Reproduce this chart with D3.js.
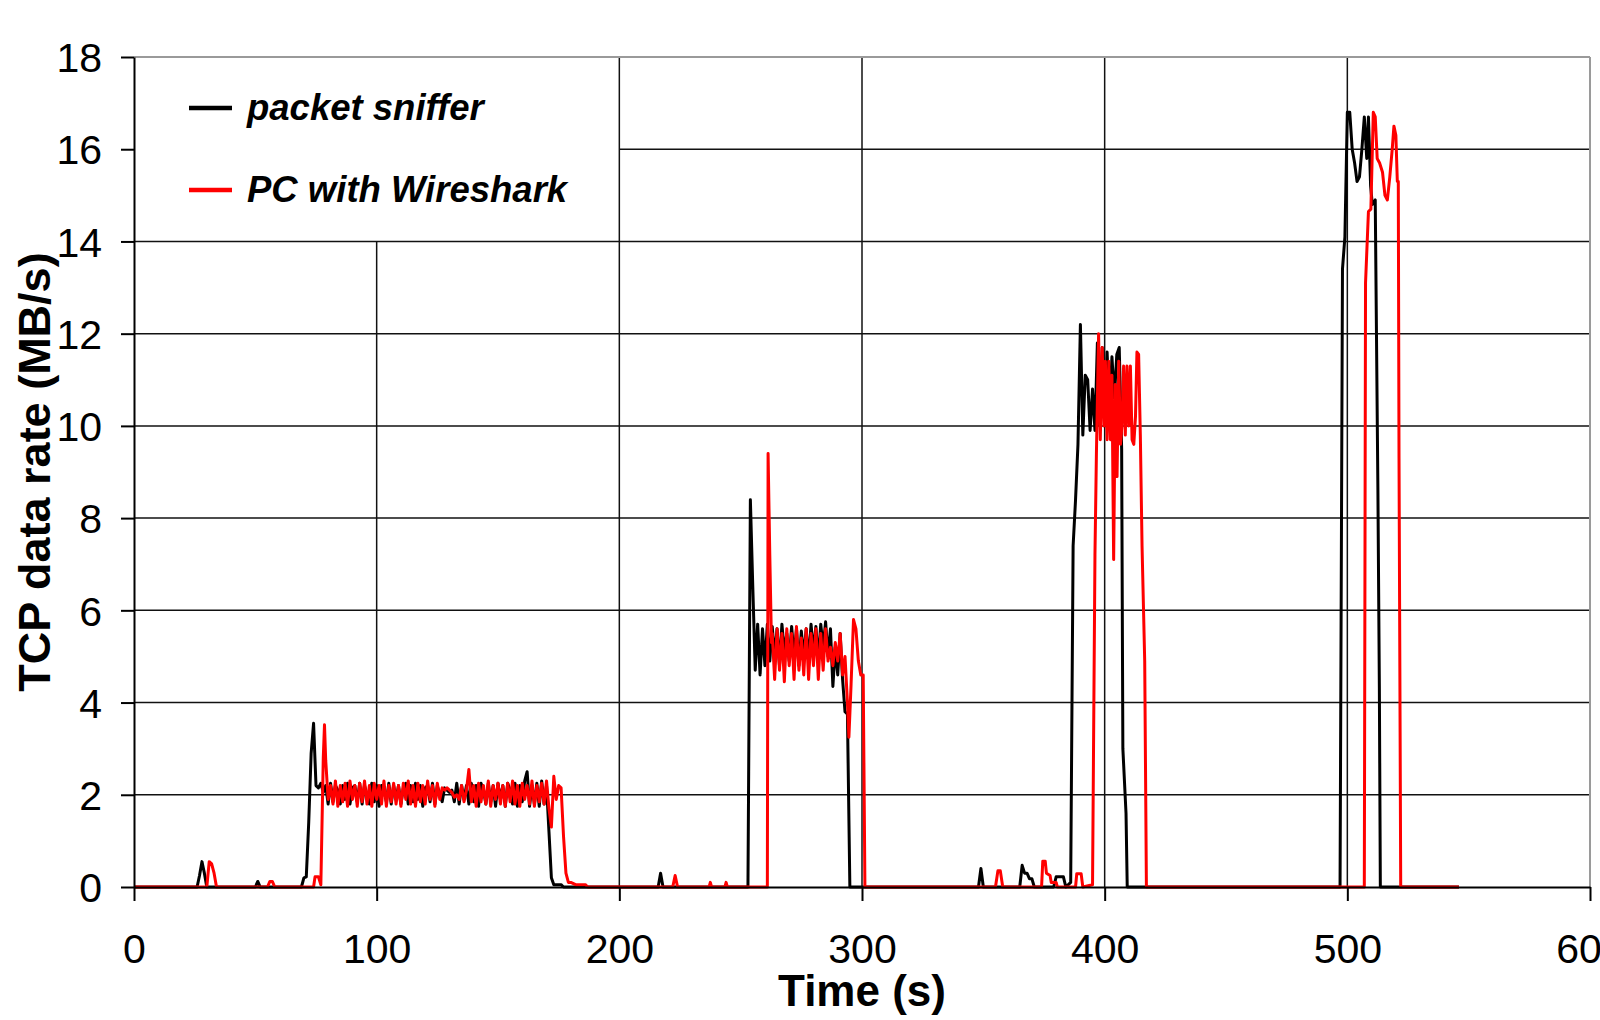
<!DOCTYPE html>
<html>
<head>
<meta charset="utf-8">
<script src="https://cdn.jsdelivr.net/npm/d3@7"></script>
<style>
  html, body { margin: 0; padding: 0; background: #fff; overflow: hidden; }
  svg { display: block; }
</style>
</head>
<body>
<svg id="chart" width="1600" height="1020"></svg>
<script>
// ---------- data (time in s, rate in MB/s) ----------
const xTicks = [0, 100, 200, 300, 400, 500, 600];
const yTicks = [0, 2, 4, 6, 8, 10, 12, 14, 16, 18];
const seriesNames = ["packet sniffer", "PC with Wireshark"];
const seriesColors = ["#000000", "#ff0000"];

const snifferData = [
  [0,0],[26,0],[27,0.25],[28,0.55],[29,0.3],[30,0],
  [50,0],[51,0.12],[52,0],
  [69,0],[70,0.2],[71,0.22],[72,1.4],[73,2.9],[74,3.55],[75,2.2],[76,2.15],[77,2.25],[78,2.05],
  [79,2.2],[80,1.8],[81,2.25],[82,1.85],[83,2.2],[84,2.1],[85,1.8],[86,2.2],[87,1.9],[88,2.25],
  [89,1.8],[90,2.15],[91,2.2],[92,1.85],[93,2.25],[94,1.8],[95,2.2],[96,2.0],[97,1.8],[98,2.25],
  [99,1.85],[100,2.2],[101,1.75],[102,2.2],[103,2.1],[104,1.85],[105,2.25],[106,1.8],[107,2.2],[108,1.9],
  [109,2.2],[110,1.8],[111,2.15],[112,2.25],[113,1.8],[114,2.2],[115,1.85],[116,2.25],[117,1.9],[118,2.2],
  [119,1.75],[120,2.15],[121,2.2],[122,1.85],[123,2.25],[124,1.8],[125,2.2],[126,2.0],[127,1.85],[128,2.15],
  [129,2.1],[130,2.05],[131,2.1],[132,1.85],[133,2.25],[134,1.8],[135,2.2],[136,1.9],[137,2.2],[138,1.8],
  [139,2.25],[140,1.85],[141,2.2],[142,1.75],[143,2.25],[144,2.1],[145,1.8],[146,2.25],[147,1.85],[148,2.2],
  [149,1.75],[150,2.25],[151,1.9],[152,2.2],[153,1.75],[154,2.25],[155,2.1],[156,1.8],[157,2.25],[158,1.75],
  [159,2.2],[160,1.85],[161,2.3],[162,2.5],[163,1.75],[164,2.2],[165,1.8],[166,2.25],[167,1.75],[168,2.3],
  [169,1.8],[170,2.2],[171,1.2],[172,0.2],[173,0.05],[176,0.05],[177,0],
  [216,0],[217,0.3],[218,0],
  [253,0],[254,8.4],[255,6.5],[256,4.7],[257,5.7],[258,4.6],[259,5.6],[260,4.8],[261,5.7],[262,4.9],
  [263,5.65],[264,5.0],[265,5.6],[266,4.8],[267,5.7],[268,5.1],[269,5.5],[270,4.9],[271,5.65],[272,5.0],
  [273,5.6],[274,4.8],[275,5.55],[276,5.0],[277,5.6],[278,4.9],[279,5.7],[280,5.1],[281,5.65],[282,4.9],
  [283,5.7],[284,5.2],[285,5.75],[286,5.0],[287,5.6],[288,4.35],[289,5.2],[290,4.6],[291,5.5],[292,4.5],
  [293,3.8],[294,3.75],[295,0],
  [348,0],[349,0.4],[350,0],
  [365,0],[366,0.47],[367,0.3],[368,0.3],[369,0.18],[370,0.18],[371,0],
  [379,0],[380,0.22],[383,0.22],[384,0],
  [386,0.1],[387,7.4],[388,8.4],[389,9.6],[390,12.2],[391,9.8],[392,11.1],[393,11.0],[394,9.9],
  [395,10.8],[396,9.9],[397,11.8],[398,10.0],[399,11.7],[400,10.0],[401,11.6],[402,10.3],[403,11.5],
  [404,10.6],[405,11.55],[406,11.7],[407,9.5],[407.5,3.0],[408.8,1.6],[409.3,0],
  [497,0],[498,13.4],[499,14.1],[500,16.8],[501,16.8],[502,16.0],[503,15.7],[504,15.3],[505,15.4],
  [506,16.0],[507,16.7],[508,15.8],[508.7,16.7],[509.6,15.2],[510.3,14.8],[511.5,14.9],[512.6,8.6],
  [513.2,4.3],[513.6,0],[546,0]
];

const wiresharkData = [
  [0,0],[30,0],[31,0.55],[32,0.5],[33,0.3],[34,0],
  [55,0],[56,0.12],[57,0.12],[58,0],
  [74,0],[74.6,0.22],[76,0.22],[77,0.05],[78,2.8],[78.5,3.52],[79,2.75],[80,1.9],
  [81,2.2],[82,1.8],[83,2.3],[84,1.75],[85,2.2],[86,1.85],[87,2.25],[88,1.75],[89,2.3],[90,1.9],
  [91,2.2],[92,1.75],[93,2.25],[94,1.85],[95,2.3],[96,1.8],[97,2.2],[98,1.75],[99,2.25],[100,1.9],
  [101,2.2],[102,1.8],[103,2.3],[104,1.75],[105,2.2],[106,1.85],[107,2.25],[108,1.8],[109,2.2],[110,1.75],
  [111,2.25],[112,1.9],[113,2.3],[114,1.8],[115,2.2],[116,1.75],[117,2.25],[118,1.85],[119,2.2],[120,1.8],
  [121,2.3],[122,1.9],[123,2.2],[124,1.75],[125,2.25],[126,1.9],[127,2.15],[128,2.1],[129,2.15],[130,2.1],
  [131,2.05],[132,1.95],[133,2.0],[134,1.9],[135,2.2],[136,1.85],[137,2.1],[138,2.55],[139,1.85],[140,2.2],
  [141,1.75],[142,2.25],[143,1.85],[144,2.2],[145,1.8],[146,2.3],[147,1.75],[148,2.2],[149,1.9],[150,2.25],
  [151,1.8],[152,2.2],[153,1.75],[154,2.25],[155,1.85],[156,2.3],[157,1.8],[158,2.2],[159,1.75],[160,2.25],
  [161,1.9],[162,2.2],[163,1.8],[164,2.3],[165,1.75],[166,2.2],[167,1.85],[168,2.25],[169,1.8],[170,2.3],
  [171,1.7],[172,1.3],[173,2.4],[174,1.9],[175,2.2],[176,2.15],[177,1.1],[178,0.3],[179,0.1],[180,0.1],
  [182,0.05],[186,0.05],[187,0],
  [222,0],[223,0.25],[224,0],
  [237,0],[237.5,0.1],[238,0],[243.5,0],[244,0.1],[244.5,0],
  [261,0],[261.3,9.4],[262,7.2],[262.7,5.3],
  [263,5.5],[264,4.5],[265,5.6],[266,4.7],[267,5.5],[268,4.45],[269,5.6],[270,4.8],[271,5.5],[272,4.5],
  [273,5.65],[274,4.7],[275,5.4],[276,4.6],[277,5.6],[278,4.5],[279,5.5],[280,4.8],[281,5.6],[282,4.5],
  [283,5.5],[284,4.7],[285,5.6],[286,4.9],[287,5.2],[288,4.8],[289,5.3],[290,4.9],[291,5.5],[292,4.6],
  [293,5.0],[294,4.0],[294.6,3.25],[295.5,4.4],[296.5,5.8],[297.5,5.6],[298.5,4.9],[299.5,4.6],[300.5,4.6],[301.2,0],
  [355,0],[356,0.35],[357,0.35],[358,0],
  [374,0],[374.5,0.56],[375.5,0.56],[376,0.3],[377.5,0.25],[378,0.1],[380,0.1],[380.5,0],
  [388,0],[388.5,0.29],[390.3,0.29],[391,0],
  [395,0.05],[396,7.2],[396.6,9.4],[397.5,12.0],[398.2,9.7],[399,11.7],[399.7,10.0],[400.3,11.4],
  [401,9.7],[401.7,11.4],[402.4,9.7],[403,11.1],[403.7,7.1],[404.4,10.9],[405.1,8.9],[405.8,11.4],
  [406.5,9.6],[407.1,10.0],[407.8,11.3],[408.5,9.8],[409.2,11.3],[409.9,10.0],[410.6,11.3],[411.3,9.7],
  [412,9.6],[412.7,10.2],[413.3,11.6],[414,11.55],[414.7,9.8],[415.4,7.4],[416.5,4.9],[417.2,0],
  [507,0],[507.5,13.1],[508.7,14.65],[509.7,14.7],[510.7,16.8],[511.5,16.7],[512.3,15.8],[513.3,15.7],
  [514.5,15.5],[515.5,15.0],[516.5,14.9],[517.5,15.4],[518.5,16.0],[519.2,16.5],[520,16.3],[520.6,15.3],
  [521,15.3],[521.3,9.3],[522,0],[546,0]
];

// ---------- layout ----------
const svg = d3.select("#chart");
const mLeft = 134, mRight = 1590, mTop = 57, mBottom = 887;
const x = d3.scaleLinear().domain([0, 600]).range([mLeft, mRight]);
const y = d3.scaleLinear().domain([0, 18]).range([mBottom, mTop]);
const legendExtent = { tMax: 200, vMin: 14 }; // blank legend panel in the upper-left

const FONT = "'Liberation Sans', Arial, Helvetica, sans-serif";

// gridlines
const grid = svg.append("g");
grid.selectAll("line.h").data(yTicks.filter(v => v > 0 && v < 18)).enter().append("line")
  .attr("x1", v => v > legendExtent.vMin ? x(legendExtent.tMax) : x(0))
  .attr("x2", x(600))
  .attr("y1", v => y(v)).attr("y2", v => y(v))
  .attr("stroke", "#111").attr("stroke-width", 1.5);
grid.selectAll("line.v").data(xTicks.filter(t => t > 0 && t < 600)).enter().append("line")
  .attr("x1", t => x(t)).attr("x2", t => x(t))
  .attr("y1", t => t < legendExtent.tMax ? y(legendExtent.vMin) : y(18))
  .attr("y2", y(0))
  .attr("stroke", "#111").attr("stroke-width", 1.5);

// frame (top and right in grey)
svg.append("line").attr("x1", x(0)).attr("x2", x(600)).attr("y1", y(18)).attr("y2", y(18))
  .attr("stroke", "#9a9a9a").attr("stroke-width", 2);
svg.append("line").attr("x1", x(600)).attr("x2", x(600)).attr("y1", y(18)).attr("y2", y(0))
  .attr("stroke", "#9a9a9a").attr("stroke-width", 2);

// data lines
const line = d3.line().x(d => x(d[0])).y(d => y(d[1]));
[snifferData, wiresharkData].forEach((data, i) => {
  svg.append("path").datum(data)
    .attr("d", line)
    .attr("fill", "none")
    .attr("stroke", seriesColors[i])
    .attr("stroke-width", 3)
    .attr("stroke-linejoin", "round");
});

// axes
const yAxis = d3.axisLeft(y).tickValues(yTicks).tickSizeInner(13).tickSizeOuter(0).tickPadding(19);
const gy = svg.append("g").attr("transform", `translate(${mLeft},0)`).call(yAxis);
gy.select(".domain").attr("stroke", "#000").attr("stroke-width", 2);
gy.selectAll(".tick line").attr("stroke", "#000").attr("stroke-width", 2);
gy.selectAll(".tick text").attr("font-family", FONT).attr("font-size", 41).attr("fill", "#000")
  .attr("dy", "0.36em");

const xAxis = d3.axisBottom(x).tickValues(xTicks).tickSizeInner(14).tickSizeOuter(0).tickPadding(33);
const gx = svg.append("g").attr("transform", `translate(0,${mBottom})`).call(xAxis);
gx.select(".domain").attr("stroke", "#000").attr("stroke-width", 2);
gx.selectAll(".tick line").attr("stroke", "#000").attr("stroke-width", 2);
gx.selectAll(".tick text").attr("font-family", FONT).attr("font-size", 41).attr("fill", "#000")
  .attr("dy", "0.71em");

// axis titles
svg.append("text")
  .attr("x", (mLeft + mRight) / 2).attr("y", 1006)
  .attr("text-anchor", "middle")
  .attr("font-family", FONT).attr("font-weight", "bold").attr("font-size", 44)
  .text("Time (s)");
svg.append("text")
  .attr("transform", `translate(50,${(mTop + mBottom) / 2}) rotate(-90)`)
  .attr("text-anchor", "middle")
  .attr("font-family", FONT).attr("font-weight", "bold").attr("font-size", 45)
  .text("TCP data rate (MB/s)");

// legend
const legendY = [108, 190];
seriesNames.forEach((name, i) => {
  svg.append("line").attr("x1", 189).attr("x2", 232)
    .attr("y1", legendY[i]).attr("y2", legendY[i])
    .attr("stroke", seriesColors[i]).attr("stroke-width", 4.5);
  svg.append("text").attr("x", 247).attr("y", legendY[i] + 12)
    .attr("font-family", FONT).attr("font-weight", "bold").attr("font-style", "italic")
    .attr("font-size", 36.5).attr("fill", "#000")
    .text(name);
});
</script>
</body>
</html>
